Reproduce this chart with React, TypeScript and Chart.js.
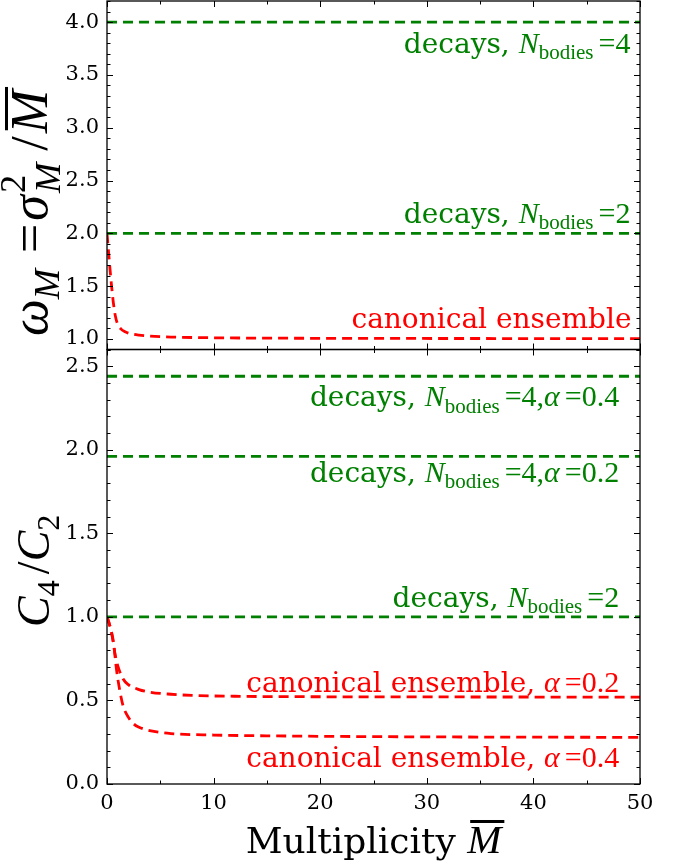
import React, { useEffect, useRef } from 'react';
import { Chart, registerables } from 'chart.js';

Chart.register(...registerables);

// ---------------- data ----------------
const xTickValues = [0, 10, 20, 30, 40, 50];
const xMinorTickValues = [5, 15, 25, 35, 45];
const topYTickValues = [1.0, 1.5, 2.0, 2.5, 3.0, 3.5, 4.0];
const botYTickValues = [0.0, 0.5, 1.0, 1.5, 2.0, 2.5];
const topYRange = [0.9, 4.2];
const botYRange = [0.0, 2.6];
const xRange = [0, 50];

// top panel: canonical ensemble scaled variance
const canonTopM = [0, 0.15, 0.3, 0.45, 0.6, 0.8, 1.0, 1.3, 1.7, 2.2, 3, 4, 6, 10, 20, 35, 50];
const canonTopW = [2.0, 1.82, 1.64, 1.48, 1.34, 1.21, 1.14, 1.095, 1.068, 1.05, 1.036, 1.027, 1.018, 1.011, 1.006, 1.004, 1.003];
// top panel: decays (horizontal levels)
const decaysTopLevels = [4.0, 2.0];

// bottom panel: canonical ensemble C4/C2
const canonA02M = [0, 0.25, 0.5, 0.75, 1.0, 1.5, 2, 3, 4, 6, 8, 12, 20, 30, 50];
const canonA02C = [1.0, 0.95, 0.88, 0.78, 0.71, 0.63, 0.595, 0.565, 0.55, 0.537, 0.53, 0.525, 0.522, 0.521, 0.52];
const canonA04M = [0, 0.3, 0.6, 0.9, 1.2, 1.5, 2, 2.5, 3, 4, 6, 10, 17, 30, 50];
const canonA04C = [1.0, 0.94, 0.85, 0.68, 0.56, 0.47, 0.4, 0.36, 0.34, 0.32, 0.302, 0.293, 0.287, 0.282, 0.279];
// bottom panel: decays (horizontal levels)
const decaysBotLevels = [2.44, 1.96, 1.0];

// ---------------- styles ----------------
const GREEN = '#008000';
const RED = '#ff0000';
const TXT = 28; // annotation text size
const MTH = 30; // annotation math size
const TICK = 21;
const TITLE = 36;
const YT = 46; // y title math size

const serif = (sz: number) => `${sz}px "DejaVu Serif"`;
const mathIt = (sz: number) => `italic ${sz}px "Liberation Serif"`;
const mathRm = (sz: number) => `${sz}px "Liberation Serif"`;

type Part = {
  t?: string;
  font: string;
  dy?: number;
  dx?: number;
  pre?: number;
  sup?: string;
  sub?: string;
  supFont?: string;
  subFont?: string;
  supDy?: number;
  subDy?: number;
  over?: boolean;
};

function partWidth(ctx: CanvasRenderingContext2D, p: Part) {
  const extra = (p.dx || 0) + (p.pre || 0);
  if (p.sup !== undefined || p.sub !== undefined) {
    let w = 0;
    if (p.sup) { ctx.font = p.supFont || p.font; w = Math.max(w, ctx.measureText(p.sup).width); }
    if (p.sub) { ctx.font = p.subFont || p.font; w = Math.max(w, ctx.measureText(p.sub).width); }
    return w + extra;
  }
  ctx.font = p.font;
  return ctx.measureText(p.t || '').width + extra;
}

function drawParts(ctx: CanvasRenderingContext2D, parts: Part[], x: number, y: number, align: 'left' | 'right' | 'center', color: string) {
  const widths = parts.map((p) => partWidth(ctx, p));
  const total = widths.reduce((a, b) => a + b, 0);
  let cx = align === 'left' ? x : align === 'right' ? x - total : x - total / 2;
  ctx.fillStyle = color;
  ctx.strokeStyle = color;
  ctx.textAlign = 'left';
  ctx.textBaseline = 'alphabetic';
  parts.forEach((p, i) => {
    const px = cx + (p.pre || 0);
    if (p.sup !== undefined || p.sub !== undefined) {
      if (p.sup) { ctx.font = p.supFont || p.font; ctx.fillText(p.sup, px, y + (p.supDy || 0)); }
      if (p.sub) { ctx.font = p.subFont || p.font; ctx.fillText(p.sub, px, y + (p.subDy || 0)); }
    } else {
      ctx.font = p.font;
      ctx.fillText(p.t || '', px, y + (p.dy || 0));
      if (p.over) {
        const m = ctx.measureText(p.t || '');
        const top = y + (p.dy || 0) - m.actualBoundingBoxAscent - 4;
        ctx.fillRect(px + 3, top - 3, m.width, 3);
      }
    }
    cx += widths[i];
  });
}

const nBodies = (n: string, extra: Part[] = []): Part[] => [
  { t: 'decays, ', font: serif(TXT) },
  { t: 'N', font: mathIt(MTH) },
  { t: 'bodies', font: mathRm(MTH * 0.7), dy: MTH * 0.22, dx: 5 },
  { t: '=', font: mathRm(MTH) },
  { t: n, font: mathRm(MTH) },
  ...extra,
];
const alphaPart = (a: string): Part[] => [
  { t: 'α', font: mathIt(MTH), dx: 5 },
  { t: '=', font: mathRm(MTH) },
  { t: a, font: mathRm(MTH) },
];

const annotations = [
  { axis: 'yTop', x: 49.1, y: 3.71, color: GREEN, parts: nBodies('4') },
  { axis: 'yTop', x: 49.1, y: 2.1, color: GREEN, parts: nBodies('2') },
  { axis: 'yTop', x: 49.2, y: 1.107, color: RED, parts: [{ t: 'canonical ensemble', font: serif(TXT) }] as Part[] },
  { axis: 'yBot', x: 48.05, y: 2.26, color: GREEN, parts: nBodies('4,', alphaPart('0.4')) },
  { axis: 'yBot', x: 48.05, y: 1.81, color: GREEN, parts: nBodies('4,', alphaPart('0.2')) },
  { axis: 'yBot', x: 48.05, y: 1.06, color: GREEN, parts: nBodies('2') },
  { axis: 'yBot', x: 48.05, y: 0.552, color: RED, parts: [{ t: 'canonical ensemble, ', font: serif(TXT) }, ...alphaPart('0.2')] as Part[] },
  { axis: 'yBot', x: 48.05, y: 0.103, color: RED, parts: [{ t: 'canonical ensemble, ', font: serif(TXT) }, ...alphaPart('0.4')] as Part[] },
];

const line = (ctx: CanvasRenderingContext2D, x1: number, y1: number, x2: number, y2: number) => {
  ctx.beginPath();
  ctx.moveTo(x1, y1);
  ctx.lineTo(x2, y2);
  ctx.stroke();
};

const decorPlugin = {
  id: 'decor',
  afterDraw(chart: any) {
    const ctx: CanvasRenderingContext2D = chart.ctx;
    const { left, right } = chart.chartArea;
    const xs = chart.scales.x;
    const panels = [
      { s: chart.scales.yTop, major: topYTickValues },
      { s: chart.scales.yBot, major: botYTickValues },
    ];
    ctx.save();
    ctx.strokeStyle = '#000';
    for (const p of panels) {
      const s = p.s;
      const top = s.top;
      const bottom = s.bottom;
      ctx.lineWidth = 1;
      const start = Math.ceil(s.min * 10 - 1e-6);
      const end = Math.floor(s.max * 10 + 1e-6);
      for (let k = start; k <= end; k++) {
        const v = k / 10;
        const isMajor = p.major.some((m) => Math.abs(m - v) < 1e-6);
        const len = isMajor ? 6 : 3.5;
        const y = Math.round(s.getPixelForValue(v)) + 0.5;
        line(ctx, left, y, left + len, y);
        line(ctx, right, y, right - len, y);
      }
      const xt = [...xTickValues.map((v) => [v, 6]), ...xMinorTickValues.map((v) => [v, 3.5])];
      for (const [v, len] of xt) {
        const x = Math.round(xs.getPixelForValue(v)) + 0.5;
        line(ctx, x, top, x, top + len);
        line(ctx, x, bottom, x, bottom - len);
      }
      ctx.lineWidth = 1.3;
      ctx.strokeRect(left, top, right - left, bottom - top);
    }

    // annotations
    for (const a of annotations) {
      const ys = chart.scales[a.axis];
      drawParts(ctx, a.parts, xs.getPixelForValue(a.x), ys.getPixelForValue(a.y), 'right', a.color);
    }

    // x title
    const cxMid = (left + right) / 2;
    drawParts(
      ctx,
      [
        { t: 'Multiplicity ', font: serif(TITLE) },
        { t: 'M', font: mathIt(TITLE + 5), over: true },
      ],
      cxMid,
      853,
      'center',
      '#000'
    );

    // top y title (rotated)
    const T = YT + 6;
    ctx.save();
    ctx.translate(47, 213);
    ctx.rotate(-Math.PI / 2);
    drawParts(
      ctx,
      [
        { t: 'ω', font: mathIt(T) },
        { t: 'M', font: mathIt(T * 0.7), dy: T * 0.24, dx: 16 },
        { t: '=', font: mathRm(T), dx: 3 },
        { t: 'σ', font: mathIt(T) },
        { sup: '2', sub: 'M', font: mathRm(T * 0.7), supFont: mathRm(T * 0.7), subFont: mathIt(T * 0.7), supDy: -T * 0.42, subDy: T * 0.25, dx: 12, pre: 2 },
        { t: '/', font: mathRm(T), dx: 3 },
        { t: 'M', font: mathIt(T), over: true },
      ],
      0,
      0,
      'center',
      '#000'
    );
    ctx.restore();

    // bottom y title (rotated)
    const sBot = chart.scales.yBot;
    ctx.save();
    ctx.translate(49, (sBot.top + sBot.bottom) / 2 + 4);
    ctx.rotate(-Math.PI / 2);
    drawParts(
      ctx,
      [
        { t: 'C', font: mathIt(YT) },
        { t: '4', font: mathRm(YT * 0.7), dy: YT * 0.22, dx: 6 },
        { t: '/', font: mathRm(YT) },
        { t: 'C', font: mathIt(YT) },
        { t: '2', font: mathRm(YT * 0.7), dy: YT * 0.22 },
      ],
      0,
      0,
      'center',
      '#000'
    );
    ctx.restore();

    ctx.restore();
  },
};

const toXY = (xs: number[], ys: number[]) => xs.map((x, i) => ({ x, y: ys[i] }));
const hline = (v: number) => [
  { x: xRange[0], y: v },
  { x: xRange[1], y: v },
];

const dashed = { borderDash: [10, 6], borderWidth: 2.8, pointRadius: 0, fill: false };

const zeroPad = (s: any) => {
  s.paddingTop = 0;
  s.paddingBottom = 0;
  s.paddingLeft = 0;
  s.paddingRight = 0;
};

export default function App() {
  const ref = useRef<HTMLCanvasElement | null>(null);
  useEffect(() => {
    document.body.style.margin = '0';
    const canvas = ref.current!;
    const datasets: any[] = [];
    decaysTopLevels.forEach((v) => datasets.push({ ...dashed, data: hline(v), borderColor: GREEN, yAxisID: 'yTop' }));
    datasets.push({ ...dashed, data: toXY(canonTopM, canonTopW), borderColor: RED, yAxisID: 'yTop', cubicInterpolationMode: 'monotone' });
    decaysBotLevels.forEach((v) => datasets.push({ ...dashed, data: hline(v), borderColor: GREEN, yAxisID: 'yBot' }));
    datasets.push({ ...dashed, data: toXY(canonA02M, canonA02C), borderColor: RED, yAxisID: 'yBot', cubicInterpolationMode: 'monotone' });
    datasets.push({ ...dashed, data: toXY(canonA04M, canonA04C), borderColor: RED, yAxisID: 'yBot', cubicInterpolationMode: 'monotone' });

    const tickFont = { family: '"DejaVu Serif"', size: TICK };
    const chart = new Chart(canvas, {
      type: 'line',
      data: { datasets },
      options: {
        animation: false,
        responsive: false,
        devicePixelRatio: 1,
        layout: { padding: { top: 1, right: 44, left: 0, bottom: 0 } },
        plugins: { legend: { display: false }, tooltip: { enabled: false } },
        scales: {
          x: {
            type: 'linear',
            position: 'bottom',
            min: xRange[0],
            max: xRange[1],
            grid: { display: false, drawTicks: false },
            border: { display: false },
            ticks: { font: tickFont, color: '#000', padding: 7, maxRotation: 0 },
            afterBuildTicks: (s: any) => { s.ticks = xTickValues.map((v) => ({ value: v })); },
            afterFit: (s: any) => { s.height = 80; zeroPad(s); },
          },
          yBot: {
            type: 'linear',
            position: 'left',
            stack: 'panels',
            stackWeight: 434.5,
            weight: 1,
            min: botYRange[0],
            max: botYRange[1],
            grid: { display: false, drawTicks: false },
            border: { display: false },
            ticks: { font: tickFont, color: '#000', padding: 8, callback: (v: any) => Number(v).toFixed(1) },
            afterBuildTicks: (s: any) => { s.ticks = botYTickValues.map((v) => ({ value: v })); },
            afterFit: (s: any) => { s.width = 107; zeroPad(s); },
          },
          yTop: {
            type: 'linear',
            position: 'left',
            stack: 'panels',
            stackWeight: 348.5,
            weight: 2,
            min: topYRange[0],
            max: topYRange[1],
            grid: { display: false, drawTicks: false },
            border: { display: false },
            ticks: { font: tickFont, color: '#000', padding: 8, callback: (v: any) => Number(v).toFixed(1) },
            afterBuildTicks: (s: any) => { s.ticks = topYTickValues.map((v) => ({ value: v })); },
            afterFit: (s: any) => { s.width = 107; zeroPad(s); },
          },
        },
      } as any,
      plugins: [decorPlugin],
    });
    return () => chart.destroy();
  }, []);
  return (
    <div style={{ width: 684, height: 864, background: '#fff' }}>
      <canvas ref={ref} width={684} height={864} style={{ display: 'block', width: 684, height: 864 }} />
    </div>
  );
}
